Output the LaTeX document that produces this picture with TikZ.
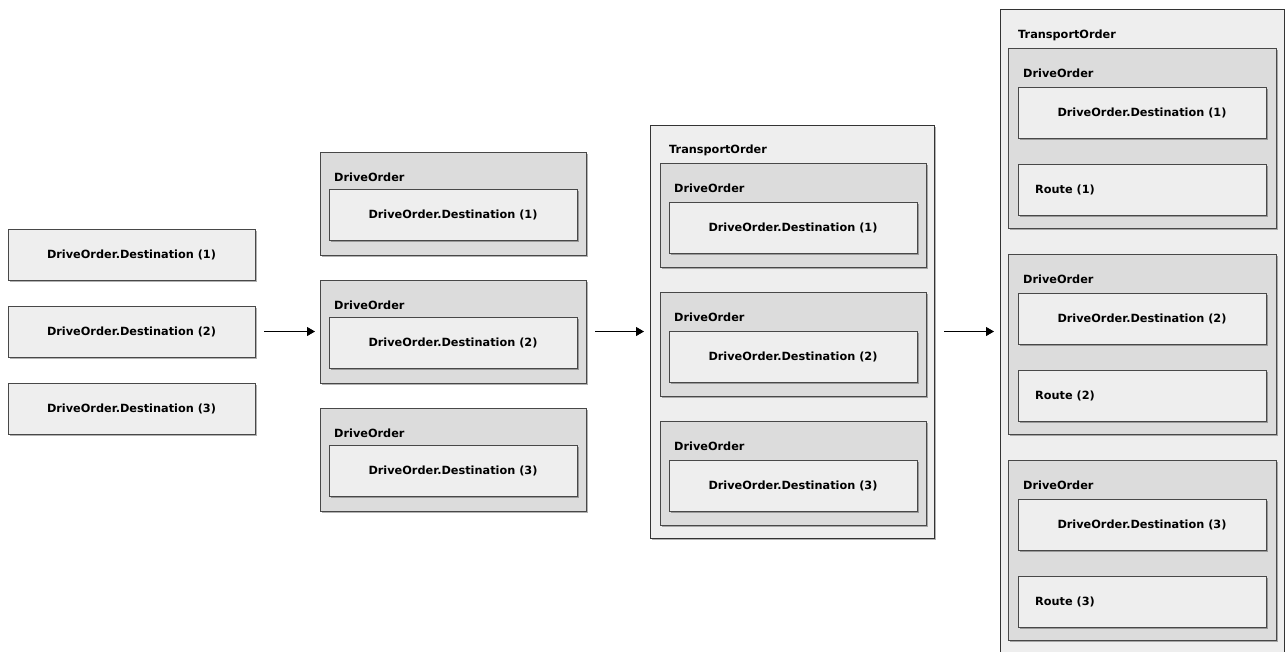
\documentclass[tikz,border=0pt]{standalone}
\usepackage{fontspec}
\setmainfont{DejaVu Sans}
\usetikzlibrary{arrows.meta,shadows}
\definecolor{lightbox}{HTML}{EEEEEE}
\definecolor{midbox}{HTML}{DCDCDC}
\definecolor{edge}{HTML}{484848}
\tikzset{
  shd/.style={drop shadow={shadow xshift=2pt,shadow yshift=-2pt,opacity=0.3,fill=black}},
  basebox/.style={rectangle,anchor=north west,inner sep=0pt,outer sep=0pt,line width=0.9pt,draw=edge,shd},
  destbox/.style={basebox,fill=lightbox,minimum width=#1,minimum height=51pt,font=\bfseries\fontsize{11.3}{13}\selectfont},
  destbox/.default=248pt,
  routebox/.style={basebox,fill=lightbox,minimum width=248pt,minimum height=51pt},
  drivebox/.style={basebox,fill=midbox},
  transbox/.style={basebox,fill=lightbox,draw=black!80},
  lbl/.style={anchor=west,inner sep=0pt,font=\bfseries\fontsize{11.3}{13}\selectfont},
  flow/.style={-{Triangle[length=8pt,width=9pt]},line width=0.9pt,black}
}
\begin{document}
\begin{tikzpicture}[x=1pt,y=-1pt]
\useasboundingbox[fill=white] (0,0) rectangle (1285,651);
% column 1
\node[destbox=247pt] (a1) at (8,229) {DriveOrder.Destination (1)};
\node[destbox=247pt] (a2) at (8,306) {DriveOrder.Destination (2)};
\node[destbox=247pt] (a3) at (8,383) {DriveOrder.Destination (3)};
% column 2
\foreach \i/\y in {1/152,2/280,3/408}{
  \node[drivebox,minimum width=266pt,minimum height=103pt] (b\i) at (320,\y) {};
  \node[lbl] (bl\i) at (334,\y+25) {DriveOrder};
  \node[destbox] (bd\i) at (329,\y+37) {DriveOrder.Destination (\i)};
}
% column 3
\node[transbox,minimum width=284pt,minimum height=413pt] (c) at (650,125) {};
\node[lbl] (cl) at (669,150) {TransportOrder};
\foreach \i/\y in {1/163,2/292,3/421}{
  \node[drivebox,minimum width=266pt,minimum height=104pt] (c\i) at (660,\y) {};
  \node[lbl] (cl\i) at (674,\y+25) {DriveOrder};
  \node[destbox] (cd\i) at (669,\y+39) {DriveOrder.Destination (\i)};
}
% column 4
\node[transbox,minimum width=284.5pt,minimum height=700pt] (d) at (1000,9) {};
\node[lbl] (dl) at (1018,35) {TransportOrder};
\foreach \i/\y in {1/48,2/254,3/460}{
  \node[drivebox,minimum width=268pt,minimum height=180pt] (d\i) at (1008,\y) {};
  \node[lbl] (dl\i) at (1023,\y+25) {DriveOrder};
  \node[destbox] (dd\i) at (1018,\y+39) {DriveOrder.Destination (\i)};
  \node[routebox] (dr\i) at (1018,\y+116) {};
  \node[lbl] (drl\i) at ([xshift=17pt]dr\i.west) {Route (\i)};
}
% arrows
\draw[flow,shorten <=9pt,shorten >=5pt] (a2.east) -- (b2.west);
\draw[flow,shorten <=9pt,shorten >=6pt] (b2.east) -- (c.west |- b2.east);
\draw[flow,shorten <=10pt,shorten >=6pt] (c.east |- b2.east) -- (d.west |- b2.east);
\end{tikzpicture}
\end{document}
